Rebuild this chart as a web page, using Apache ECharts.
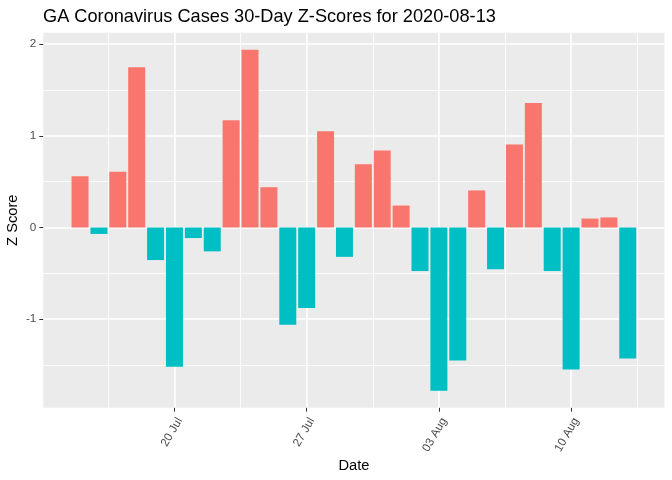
<!DOCTYPE html>
<html>
<head>
<meta charset="utf-8">
<script src="https://cdn.jsdelivr.net/npm/echarts@6/dist/echarts.min.js"></script>
<style>html,body{margin:0;padding:0;background:#fff}#c{width:672px;height:480px}</style>
</head>
<body>
<div id="c"></div>
<script>
const titleText = 'GA Coronavirus Cases 30-Day Z-Scores for 2020-08-13';
const dates = ['2020-07-15','2020-07-16','2020-07-17','2020-07-18','2020-07-19','2020-07-20','2020-07-21','2020-07-22','2020-07-23','2020-07-24','2020-07-25','2020-07-26','2020-07-27','2020-07-28','2020-07-29','2020-07-30','2020-07-31','2020-08-01','2020-08-02','2020-08-03','2020-08-04','2020-08-05','2020-08-06','2020-08-07','2020-08-08','2020-08-09','2020-08-10','2020-08-11','2020-08-12','2020-08-13'];
const zScores = [0.56,-0.07,0.61,1.75,-0.355,-1.52,-0.115,-0.26,1.17,1.94,0.44,-1.06,-0.877,1.05,-0.32,0.69,0.84,0.24,-0.475,-1.78,-1.45,0.405,-0.455,0.905,1.36,-0.475,-1.55,0.098,0.11,-1.43];
const xTickDates = ['2020-07-20','2020-07-27','2020-08-03','2020-08-10'];
const xTickLabels = ['20 Jul','27 Jul','03 Aug','10 Aug'];
const xMinorDates = ['2020-07-16T12','2020-07-23T12','2020-07-30T12','2020-08-06T12','2020-08-13T12'];
const yTicks = [-1, 0, 1, 2];
const yMinor = [-1.5, -0.5, 0.5, 1.5];

const DAY = 86400000;
const t0 = Date.parse(dates[0] + 'T00:00:00Z');
const dayIdx = s => (Date.parse((s.length > 10 ? s + ':00:00Z' : s + 'T00:00:00Z')) - t0) / DAY;

const posColor = '#F8766D', negColor = '#00BFC4';
const n = dates.length;
const barHalf = 0.45;
const xSpan = (n - 1) + 2 * barHalf;
const xMin = -barHalf - 0.05 * xSpan;
const xMax = (n - 1) + barHalf + 0.05 * xSpan;
const yLo = Math.min(...zScores, 0), yHi = Math.max(...zScores, 0);
const yMin = yLo - 0.05 * (yHi - yLo), yMax = yHi + 0.05 * (yHi - yLo);

const W = 672, gridLeft = 43.3, gridRight = 7.5;
const plotW = W - gridLeft - gridRight;
const barW = 0.9 * plotW / (xMax - xMin);

const xMajor = xTickDates.map(dayIdx);
const xMinor = xMinorDates.map(dayIdx);
const labelMap = {};
xMajor.forEach((v, i) => labelMap[v] = xTickLabels[i]);

const gridLines = [];
yMinor.forEach(v => gridLines.push({yAxis: v, lineStyle: {color: '#fff', width: 0.8, type: 'solid'}}));
xMinor.forEach(v => gridLines.push({xAxis: v, lineStyle: {color: '#fff', width: 0.8, type: 'solid'}}));
yTicks.forEach(v => gridLines.push({yAxis: v, lineStyle: {color: '#fff', width: 1.5, type: 'solid'}}));
xMajor.forEach(v => gridLines.push({xAxis: v, lineStyle: {color: '#fff', width: 1.5, type: 'solid'}}));

const chart = echarts.init(document.getElementById('c'), null, {renderer: 'canvas'});
chart.setOption({
  animation: false,
  backgroundColor: '#fff',
  title: {
    text: titleText, left: 43, top: 8, padding: 0,
    textStyle: {fontFamily: 'Liberation Sans', fontSize: 18.2, fontWeight: 'normal', color: '#000'}
  },
  grid: {
    left: gridLeft, right: gridRight, top: 32.7, bottom: 72.3,
    outerBoundsMode: 'none', containLabel: false,
    show: true, backgroundColor: '#EBEBEB', borderWidth: 0
  },
  xAxis: {
    type: 'value', min: xMin, max: xMax,
    name: 'Date', nameLocation: 'middle', nameGap: 51, nameMoveOverlap: false,
    nameTextStyle: {fontFamily: 'Liberation Sans', fontSize: 14.7, color: '#000'},
    axisLine: {show: false, onZero: false},
    splitLine: {show: false},
    axisTick: {show: true, customValues: xMajor, length: 4, lineStyle: {color: '#333333', width: 1}},
    axisLabel: {
      customValues: xMajor, rotate: 60, margin: 8, verticalAlign: 'top',
      fontFamily: 'Liberation Sans', fontSize: 11.7, color: '#4D4D4D',
      formatter: v => labelMap[v] || ''
    }
  },
  yAxis: {
    type: 'value', min: yMin, max: yMax,
    name: 'Z Score', nameLocation: 'middle', nameGap: 23, nameRotate: 90, nameMoveOverlap: false,
    nameTextStyle: {fontFamily: 'Liberation Sans', fontSize: 14.7, color: '#000'},
    axisLine: {show: false, onZero: false},
    splitLine: {show: false},
    axisTick: {show: true, customValues: yTicks, length: 4, lineStyle: {color: '#333333', width: 1}},
    axisLabel: {
      customValues: yTicks, margin: 7,
      fontFamily: 'Liberation Sans', fontSize: 11.7, color: '#4D4D4D',
      formatter: v => String(Math.round(v))
    }
  },
  series: [
    {
      type: 'line', data: [], z: 1, silent: true,
      markLine: {z: 1, silent: true, symbol: ['none', 'none'], label: {show: false}, animation: false, data: gridLines}
    },
    {
      type: 'bar', z: 3, barWidth: barW, silent: true,
      data: zScores.map((v, i) => ({value: [i, v], itemStyle: {color: v > 0 ? posColor : negColor}}))
    }
  ]
});
</script>
</body>
</html>
